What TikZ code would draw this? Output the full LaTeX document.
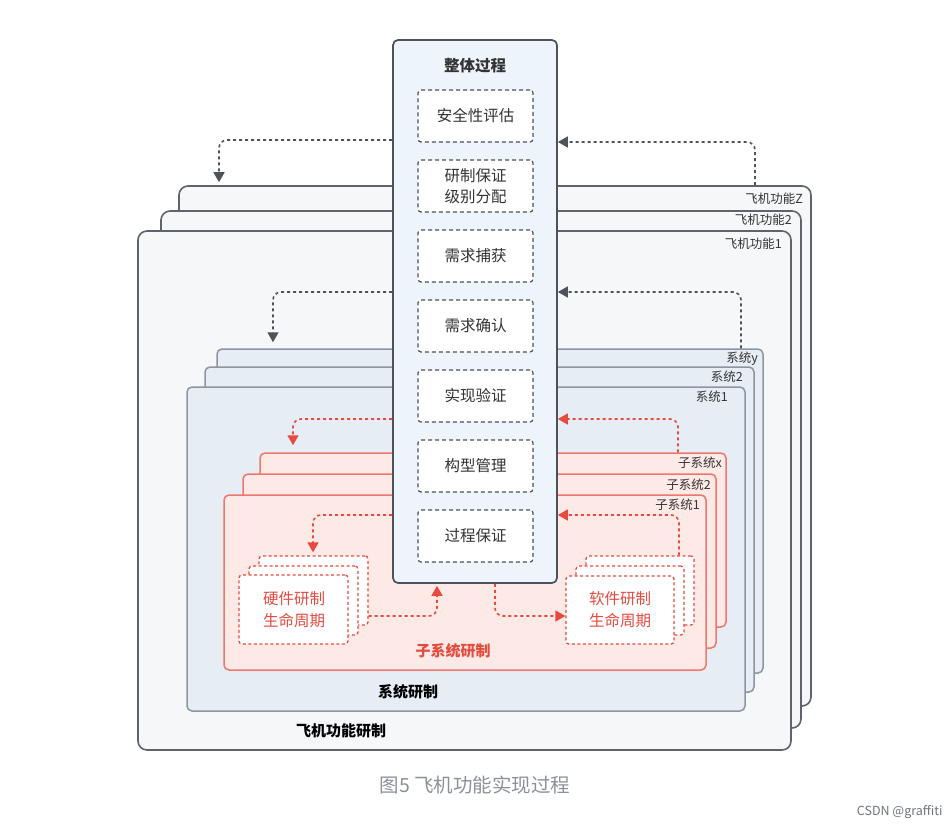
\documentclass[tikz,border=0pt]{standalone}
\usepackage{fontspec}
\setmainfont{Noto Sans CJK SC}
\usetikzlibrary{fit,arrows.meta,calc}
\definecolor{fnborder}{HTML}{5F636B}
\definecolor{fnfill}{HTML}{F6F7F9}
\definecolor{sysborder}{HTML}{8F959E}
\definecolor{sysfill}{HTML}{E7EDF4}
\definecolor{subborder}{HTML}{EF776C}
\definecolor{subfill}{HTML}{FDE9E6}
\definecolor{ctrfill}{HTML}{EEF4FB}
\definecolor{ctrborder}{HTML}{4D525A}
\definecolor{arrg}{HTML}{4E535B}
\definecolor{arrr}{HTML}{E94A3F}
\definecolor{redtext}{HTML}{E54B3F}
\definecolor{lbltext}{HTML}{333333}
\definecolor{captext}{HTML}{8C9199}
\begin{document}
\begin{tikzpicture}[x=1pt,y=-1pt,
  fnbox/.style={draw=fnborder,fill=fnfill,line width=1.6pt,rounded corners=9pt,inner sep=0pt},
  sysbox/.style={draw=sysborder,fill=sysfill,line width=1.5pt,rounded corners=5pt,inner sep=0pt},
  subbox/.style={draw=subborder,fill=subfill,line width=1.5pt,rounded corners=5pt,inner sep=0pt},
  ctrbox/.style={draw=ctrborder,fill=ctrfill,line width=1.7pt,rounded corners=5pt,inner sep=0pt},
  dbox/.style={draw=ctrborder,fill=white,line width=1.2pt,dash pattern=on 4pt off 3pt,rounded corners=3pt,
    minimum width=115pt,minimum height=52pt,align=center,text=lbltext,font=\fontsize{15.5}{21}\selectfont},
  rbox/.style={draw=arrr,fill=white,line width=1.3pt,dash pattern=on 3pt off 2.5pt,rounded corners=3pt,inner sep=0pt},
  lbl/.style={anchor=east,text=lbltext,font=\fontsize{12.5}{14}\selectfont,inner sep=0pt},
  garrow/.style={draw=arrg,line width=1.6pt,dash pattern=on 3pt off 3pt,rounded corners=8pt,
    -{Triangle[width=11pt,length=10pt]}},
  rarrow/.style={draw=arrr,line width=1.6pt,dash pattern=on 3pt off 3pt,rounded corners=8pt,
    -{Triangle[width=11pt,length=10pt]}}]
\useasboundingbox[fill=white] (0,0) rectangle (950,830);

% aircraft function stack
\node[fnbox,fit={(179,186)(811,706)}] (fz) {};
\node[fnbox,fit={(161,211)(801,728)}] (f2) {};
\node[fnbox,fit={(138,231)(791,750)}] (f1) {};
\node[lbl] (lfz) at (803,199) {飞机功能Z};
\node[lbl] (lf2) at (792,220) {飞机功能2};
\node[lbl] (lf1) at (782,244) {飞机功能1};
\node[text=black,font=\bfseries\fontsize{15}{18}\selectfont] (tf) at (341,731) {飞机功能研制};

% system stack
\node[sysbox,fit={(217,349)(763,673)}] (sysy) {};
\node[sysbox,fit={(205,367)(754,692)}] (sys2) {};
\node[sysbox,fit={(187,387)(745,711)}] (sys1) {};
\node[lbl] (lsy) at (758,359) {系统y};
\node[lbl] (ls2) at (743,377) {系统2};
\node[lbl] (ls1) at (728,397) {系统1};
\node[text=black,font=\bfseries\fontsize{15}{18}\selectfont] (ts) at (408,692) {系统研制};

% subsystem stack
\node[subbox,fit={(260,453)(726,627)}] (subx) {};
\node[subbox,fit={(243,474)(716,648)}] (sub2) {};
\node[subbox,fit={(224,495)(706,670)}] (sub1) {};
\node[lbl] (lbx) at (722,463) {子系统x};
\node[lbl] (lb2) at (711,485) {子系统2};
\node[lbl] (lb1) at (700,505) {子系统1};
\node[text=redtext,font=\bfseries\fontsize{15}{18}\selectfont] (tsub) at (453,651) {子系统研制};

% hardware lifecycle stack
\node[rbox,fit={(259,556)(368,625)}] (hw3) {};
\node[rbox,fit={(249,566)(358,635)}] (hw2) {};
\node[rbox,fit={(239,575)(348,644)}] (hw1) {};
\node[align=center,text=redtext,font=\fontsize{15.5}{22}\selectfont] (thw) at (294,610) {硬件研制\\生命周期};

% software lifecycle stack
\node[rbox,fit={(586,556)(694,625)}] (sw3) {};
\node[rbox,fit={(576,566)(684,635)}] (sw2) {};
\node[rbox,fit={(566,576)(674,644)}] (sw1) {};
\node[align=center,text=redtext,font=\fontsize{15.5}{22}\selectfont] (tsw) at (620,610) {软件研制\\生命周期};

% central column
\node[ctrbox,fit={(393,40)(557,583)}] (ctr) {};
\node[text=lbltext,font=\bfseries\fontsize{15.5}{18}\selectfont] (ttl) at (475,66) {整体过程};
\node[dbox] (s1) at (475.5,116) {安全性评估};
\node[dbox] (s2) at (475.5,186) {研制保证\\级别分配};
\node[dbox] (s3) at (475.5,256) {需求捕获};
\node[dbox] (s4) at (475.5,326) {需求确认};
\node[dbox] (s5) at (475.5,396) {实现验证};
\node[dbox] (s6) at (475.5,466) {构型管理};
\node[dbox] (s7) at (475.5,536) {过程保证};

% connectors
\draw[garrow,shorten >=3pt] (ctr.west |- 0,140) -| (fz.north -| 219,0);
\draw[garrow] (fz.north -| 755,0) |- (ctr.east |- 0,142);
\draw[garrow,shorten >=6pt] (ctr.west |- 0,292) -| (sysy.north -| 273,0);
\draw[garrow] (sysy.north -| 741,0) |- (ctr.east |- 0,292);
\draw[rarrow,shorten >=7pt] (ctr.west |- 0,419) -| (subx.north -| 293,0);
\draw[rarrow] (subx.north -| 678,0) |- (ctr.east |- 0,419);
\draw[rarrow,shorten >=3pt] (ctr.west |- 0,515) -| (hw3.north -| 313,0);
\draw[rarrow] (sw3.north -| 679,0) |- (ctr.east |- 0,515);
\draw[rarrow,shorten >=2pt] (hw3.east |- 0,616) -| (ctr.south -| 437,0);
\draw[rarrow] (ctr.south -| 495,0) |- (sw1.west |- 0,616);

% caption
\node[text=captext,font=\fontsize{19.5}{22}\selectfont] (cap) at (475,785) {图5 飞机功能实现过程};
\node[anchor=east,text=captext!80!black,font=\fontsize{12.5}{14}\selectfont] (wm) at (946,812) {CSDN @graffiti};
\end{tikzpicture}
\end{document}
